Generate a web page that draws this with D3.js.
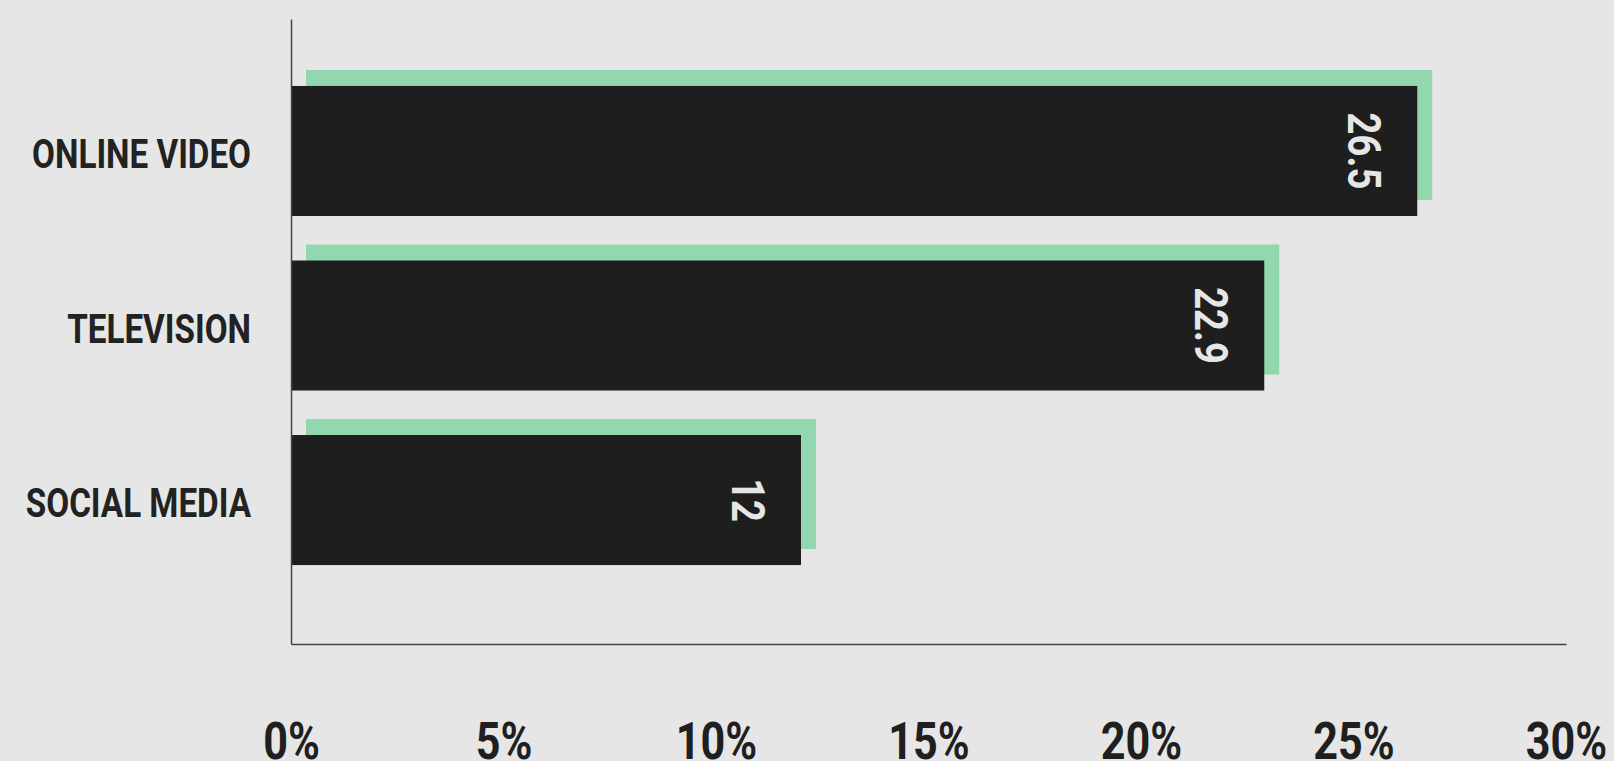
<!DOCTYPE html>
<html>
<head>
<meta charset="utf-8">
<script src="https://cdn.jsdelivr.net/npm/d3@7"></script>
<style>
  html, body { margin: 0; padding: 0; background: #e6e6e6; overflow: hidden; }
  svg { display: block; }
</style>
</head>
<body>
<div id="chart"></div>
<script>
const categories = ['ONLINE VIDEO', 'TELEVISION', 'SOCIAL MEDIA']
const values = [26.5, 22.9, 12]
const xTicks = [0, 5, 10, 15, 20, 25, 30]

const width = 1614
const height = 761
const margin = {top: 19, left: 291, right: 48, bottom: 117}
const squeeze = 0.83   // condensed look
const labelSqueeze = 0.81
const shadow = {dx: 15, dy: -16}

let svg = d3.select('#chart').append('svg')
  .attr('width', width)
  .attr('height', height)

svg.append('rect')
  .attr('width', width)
  .attr('height', height)
  .style('fill', '#e6e6e6')

let xScale = d3.scaleLinear()
  .domain([0, 30])
  .range([margin.left, width - margin.right])

let yScale = d3.scaleBand()
  .domain(categories)
  .range([margin.top, height - margin.bottom])
  .paddingInner(0.255)
  .paddingOuter(0.418)
  .align(0.459)

let bars = svg.selectAll('.bar')
  .data(values)
  .enter()
  .append('g')
  .classed('bar', true)

// green shadow behind each bar
bars.append('rect')
  .attr('x', xScale(0) + shadow.dx)
  .attr('y', (d, i) => yScale(categories[i]) + shadow.dy)
  .attr('width', d => xScale(d) - xScale(0))
  .attr('height', yScale.bandwidth())
  .style('fill', '#93d7ae')

bars.append('rect')
  .attr('x', xScale(0))
  .attr('y', (d, i) => yScale(categories[i]))
  .attr('width', d => xScale(d) - xScale(0))
  .attr('height', yScale.bandwidth())
  .style('fill', '#1e1e1e')

// rotated value labels
bars.append('text')
  .attr('transform', (d, i) => `translate(${xScale(d) - 69},${yScale(categories[i]) + yScale.bandwidth() / 2}) rotate(90) scale(${squeeze},1)`)
  .attr('text-anchor', 'middle')
  .style('font-family', 'Roboto, sans-serif')
  .style('font-weight', 700)
  .style('font-size', '46px')
  .style('fill', '#e6e6e6')
  .text(d => d)

// y axis
let yAxis = svg.append('g')
  .attr('transform', `translate(${margin.left},0)`)
  .call(d3.axisLeft(yScale).tickSize(0).tickSizeOuter(0))
yAxis.select('.domain')
  .style('stroke', '#444')
  .style('stroke-width', 1.5)
yAxis.selectAll('.tick text')
  .attr('x', 0)
  .attr('dy', 0)
  .attr('text-anchor', 'end')
  .attr('transform', `translate(-40,17) scale(${labelSqueeze},1)`)
  .style('font-family', 'Roboto, sans-serif')
  .style('font-weight', 700)
  .style('font-size', '41px')
  .style('fill', '#222')

// x axis
let xAxis = svg.append('g')
  .attr('transform', `translate(0,${height - margin.bottom})`)
  .call(d3.axisBottom(xScale).tickValues(xTicks).tickFormat(d => d + '%').tickSize(0).tickSizeOuter(0))
xAxis.select('.domain')
  .style('stroke', '#444')
  .style('stroke-width', 1.5)
xAxis.selectAll('.tick text')
  .attr('y', 0)
  .attr('dy', 0)
  .attr('text-anchor', 'middle')
  .attr('transform', `translate(0,115) scale(${squeeze},1)`)
  .style('font-family', 'Roboto, sans-serif')
  .style('font-weight', 700)
  .style('font-size', '52px')
  .style('fill', '#1f1f1f')
</script>
</body>
</html>
